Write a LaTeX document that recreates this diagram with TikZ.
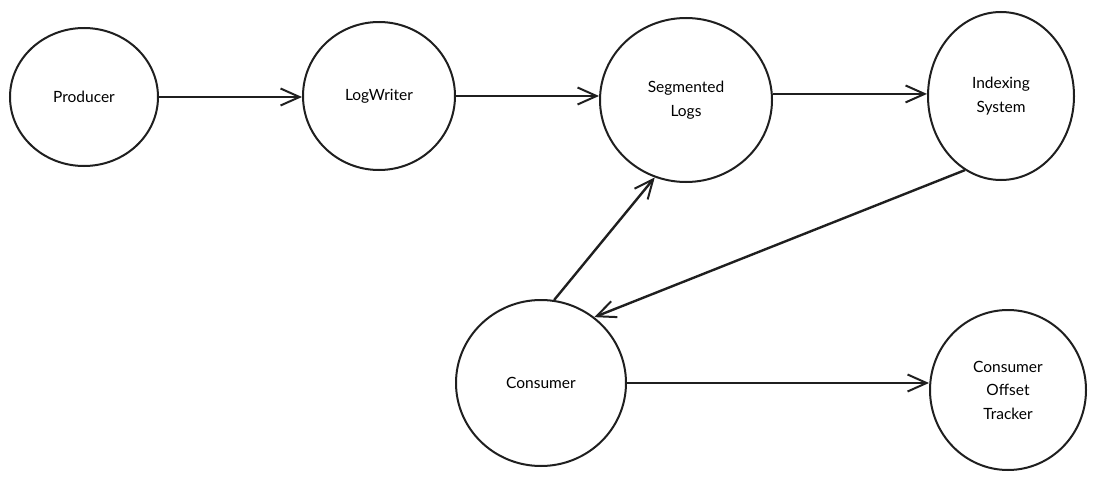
\documentclass[tikz,border=0pt]{standalone}
\usepackage{fontspec}
\setmainfont{Lato}
\usetikzlibrary{shapes.geometric,arrows.meta}
\begin{document}
\begin{tikzpicture}[x=1pt,y=-1pt,
  bubble/.style={ellipse,draw=black!88,line width=2pt,inner sep=0pt,align=center,
    font=\fontsize{15.5}{23.5}\selectfont},
  conn/.style={draw=black!88,line width=2pt,
    -{Straight Barb[length=19pt,width=17pt,line width=2pt]}}]
\useasboundingbox (0,0) rectangle (1109,479);
\node[bubble,minimum width=148pt,minimum height=138pt] (prod) at (84,97) {Producer};
\node[bubble,minimum width=152pt,minimum height=148pt] (lw) at (379,96) {LogWriter};
\node[bubble,minimum width=172pt,minimum height=164pt] (seg) at (686,100) {Segmented\\Logs};
\node[bubble,minimum width=146pt,minimum height=168pt] (idx) at (1001,96) {Indexing\\System};
\node[bubble,minimum width=170pt,minimum height=166pt] (con) at (541,383) {Consumer};
\node[bubble,minimum width=156pt,minimum height=160pt] (trk) at (1008,390) {Consumer\\Offset\\Tracker};
\draw[conn,line width=2.6pt] (prod.east) -- (prod.east -| lw.west);
\draw[conn] (lw.east) -- (lw.east -| seg.west);
\draw[conn] (seg.4) -- (seg.4 -| idx.west);
\draw[conn,line width=2.4pt] (idx.244) -- (con.51);
\draw[conn,line width=2.4pt] (con.81) -- (seg.248);
\draw[conn] (con.east) -- (con.east -| trk.west);
\end{tikzpicture}
\end{document}
